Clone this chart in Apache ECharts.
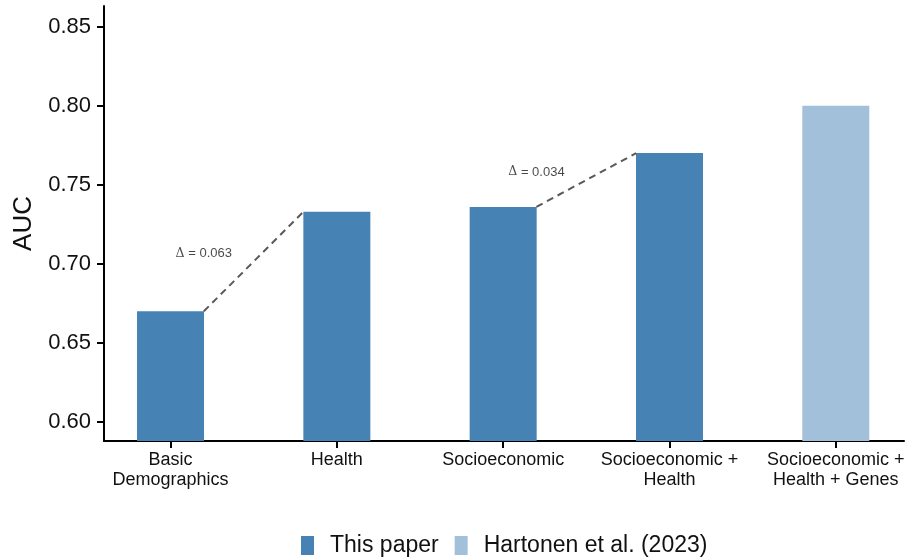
<!DOCTYPE html>
<html>
<head>
<meta charset="utf-8">
<script src="https://cdn.jsdelivr.net/npm/echarts@6/dist/echarts.min.js"></script>
<style>
  html, body { margin: 0; padding: 0; background: #ffffff; }
  #chart { width: 908px; height: 558px; }
</style>
</head>
<body>
<div id="chart"></div>
<script>
// Model groups along the x axis
const categories = [
  'Basic\nDemographics',
  'Health',
  'Socioeconomic',
  'Socioeconomic +\nHealth',
  'Socioeconomic +\nHealth + Genes'
];
// AUC per model group (null where the source has no value)
const thisPaper = [0.670, 0.733, 0.736, 0.770, null];
const hartonen = [null, null, null, null, 0.800];
// y-axis tick values
const yTicks = [0.60, 0.65, 0.70, 0.75, 0.80, 0.85];
// pairs of groups joined by a dashed gain line
const deltaPairs = [[0, 1], [2, 3]];

const BAR_UNITS = 0.4;          // bar width in category units
const HALF = BAR_UNITS / 2;
const FONT = '"Liberation Sans", Arial, Helvetica, sans-serif';

function toPoints(arr) {
  const out = [];
  arr.forEach((v, i) => { if (v != null) out.push([i + 1, v]); });
  return out;
}

const chart = echarts.init(document.getElementById('chart'), null, { renderer: 'canvas' });

const series = [
  {
    name: 'This paper',
    type: 'bar',
    data: toPoints(thisPaper),
    barWidth: 67,
    barGap: '-100%',
    itemStyle: { color: '#4682B4' }
  },
  {
    name: 'Hartonen et al. (2023)',
    type: 'bar',
    data: toPoints(hartonen),
    barWidth: 67,
    barGap: '-100%',
    itemStyle: { color: '#A2C0DA' }
  }
];

deltaPairs.forEach(([a, b]) => {
  const va = thisPaper[a], vb = thisPaper[b];
  series.push({
    type: 'line',
    data: [[a + 1 + HALF, va], [b + 1 - HALF, vb]],
    symbol: 'none',
    silent: true,
    z: 3,
    lineStyle: { color: '#595959', width: 2, type: [7, 5] }
  });
  series.push({
    type: 'scatter',
    data: [[a + 1 + HALF, (va + vb) / 2 + 0.005]],
    symbolSize: 0,
    silent: true,
    label: {
      show: true,
      position: 'inside',
      formatter: '{d|Δ}{t| = ' + (vb - va).toFixed(3) + '}',
      rich: {
        d: { fontFamily: '"DejaVu Serif", serif', fontSize: 12.5, color: '#1a1a1a' },
        t: { fontFamily: FONT, fontSize: 13, color: '#1a1a1a' }
      }
    }
  });
});

chart.setOption({
  animation: false,
  backgroundColor: '#ffffff',
  grid: { left: 104, right: 4, top: 6, bottom: 117, containLabel: false },
  legend: {
    data: ['This paper', 'Hartonen et al. (2023)'],
    left: 301,
    top: 534,
    padding: 0,
    icon: 'rect',
    itemWidth: 13,
    itemHeight: 19,
    itemGap: 16,
    textStyle: { fontFamily: FONT, fontSize: 23, color: '#111', padding: [0, 0, 0, 11] }
  },
  xAxis: {
    type: 'value',
    min: 0.6,
    max: 5.41,
    splitLine: { show: false },
    axisLine: { show: true, lineStyle: { color: '#000', width: 2 } },
    axisTick: {
      show: true,
      length: 7,
      customValues: [1, 2, 3, 4, 5],
      lineStyle: { color: '#000', width: 2 }
    },
    axisLabel: {
      customValues: [1, 2, 3, 4, 5],
      formatter: (v) => categories[Math.round(v) - 1],
      fontFamily: FONT,
      fontSize: 18,
      lineHeight: 20,
      color: '#111',
      margin: 9,
      align: 'center'
    }
  },
  yAxis: {
    type: 'value',
    min: 0.588,
    max: 0.863,
    name: 'AUC',
    nameLocation: 'middle',
    nameGap: 65,
    nameTextStyle: { fontFamily: FONT, fontSize: 26, color: '#111' },
    splitLine: { show: false },
    axisLine: { show: true, lineStyle: { color: '#000', width: 2 } },
    axisTick: {
      show: true,
      length: 7,
      customValues: yTicks,
      lineStyle: { color: '#000', width: 2 }
    },
    axisLabel: {
      customValues: yTicks,
      formatter: (v) => v.toFixed(2),
      fontFamily: FONT,
      fontSize: 22,
      color: '#111',
      margin: 13
    }
  },
  series: series
});
</script>
</body>
</html>
